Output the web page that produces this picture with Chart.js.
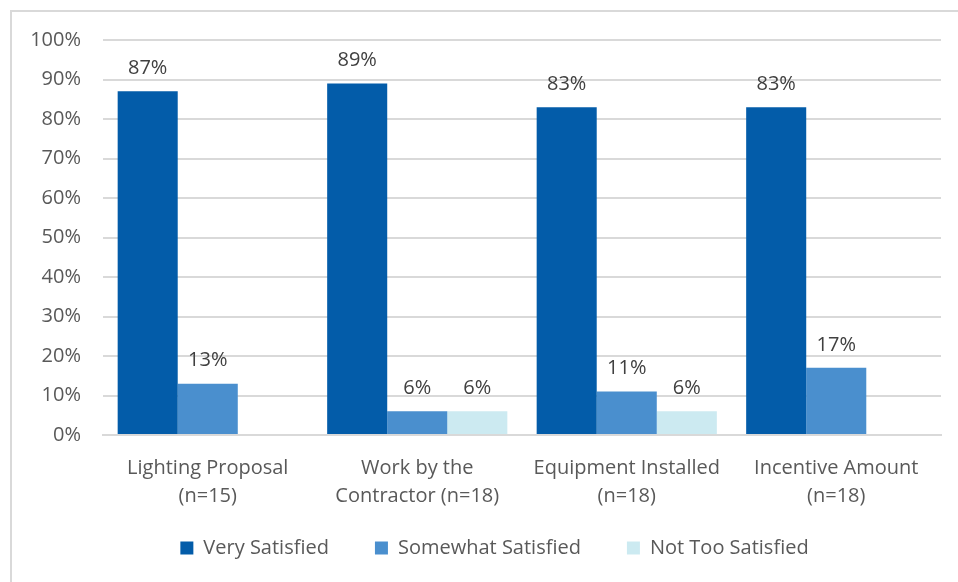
<!DOCTYPE html>
<html>
<head>
<meta charset="utf-8">
<script src="https://cdn.jsdelivr.net/npm/chart.js@4.4.1/dist/chart.umd.min.js"></script>
<style>
  html, body { margin: 0; padding: 0; background: #fff; }
  body { width: 958px; height: 582px; position: relative; overflow: hidden; }
  .frame {
    position: absolute; left: 10px; top: 10px;
    width: 1000px; height: 640px;
    border: 2px solid #d9d9d9; box-sizing: border-box;
  }
  .wrap { position: absolute; left: 0; top: 0; width: 958px; height: 582px; }
</style>
</head>
<body>
<div class="frame"></div>
<div class="wrap"><canvas id="chart"></canvas></div>
<script>
const categories = [
  ["Lighting Proposal", "(n=15)"],
  ["Work by the", "Contractor (n=18)"],
  ["Equipment Installed", "(n=18)"],
  ["Incentive Amount", "(n=18)"]
];
const verySatisfied = [87, 89, 83, 83];
const somewhatSatisfied = [13, 6, 11, 17];
const notTooSatisfied = [null, 6, 6, null];

const FONT = "'Open Sans', sans-serif";
const SIZE = 20;

// percentage labels above each bar
const barLabels = {
  id: "barLabels",
  afterDatasetsDraw(chart) {
    const ctx = chart.ctx;
    ctx.save();
    ctx.font = SIZE + "px " + FONT;
    ctx.fillStyle = "#404040";
    ctx.textAlign = "center";
    ctx.textBaseline = "middle";
    chart.data.datasets.forEach((ds, i) => {
      chart.getDatasetMeta(i).data.forEach((bar, j) => {
        const v = ds.data[j];
        if (v == null) return;
        ctx.fillText(v + "%", bar.x, bar.y - 23);
      });
    });
    ctx.restore();
  }
};

// axis boxes are kept tight for layout; widen them afterwards so tick labels aren't clipped
const looseTicks = {
  id: "looseTicks",
  afterLayout(chart) {
    const { x, y } = chart.scales;
    x.bottom = x.top + 110;
    y.left = 0;
  }
};

new Chart(document.getElementById("chart"), {
  type: "bar",
  data: {
    labels: categories,
    datasets: [
      { label: "Very Satisfied", data: verySatisfied, backgroundColor: "#035ca9" },
      { label: "Somewhat Satisfied", data: somewhatSatisfied, backgroundColor: "#4a8fce" },
      { label: "Not Too Satisfied", data: notTooSatisfied, backgroundColor: "#cceaf1" }
    ]
  },
  options: {
    responsive: true,
    maintainAspectRatio: false,
    animation: false,
    datasets: { bar: { categoryPercentage: 0.86, barPercentage: 1 } },
    layout: { padding: { left: 48, right: 17, top: 40, bottom: 14 } },
    plugins: {
      tooltip: { enabled: false },
      legend: {
        position: "bottom",
        labels: {
          font: { family: FONT, size: SIZE },
          color: "#595959",
          boxWidth: 13,
          boxHeight: 13,
          padding: 46
        }
      }
    },
    scales: {
      x: {
        grid: { display: false },
        border: { color: "#d9d9d9", width: 2 },
        ticks: {
          color: "#595959",
          font: { family: FONT, size: SIZE, lineHeight: 1.4 },
          padding: 11,
          maxRotation: 0
        },
        afterFit: (s) => { s.height = 57; }
      },
      y: {
        min: 0,
        max: 100,
        grid: { color: "#d9d9d9", lineWidth: 2, drawTicks: false },
        border: { display: false },
        ticks: {
          stepSize: 10,
          color: "#595959",
          font: { family: FONT, size: SIZE },
          padding: 22,
          callback: (v) => v + "%"
        },
        afterFit: (s) => { s.width = 55; }
      }
    }
  },
  plugins: [barLabels, looseTicks]
});
</script>
</body>
</html>
